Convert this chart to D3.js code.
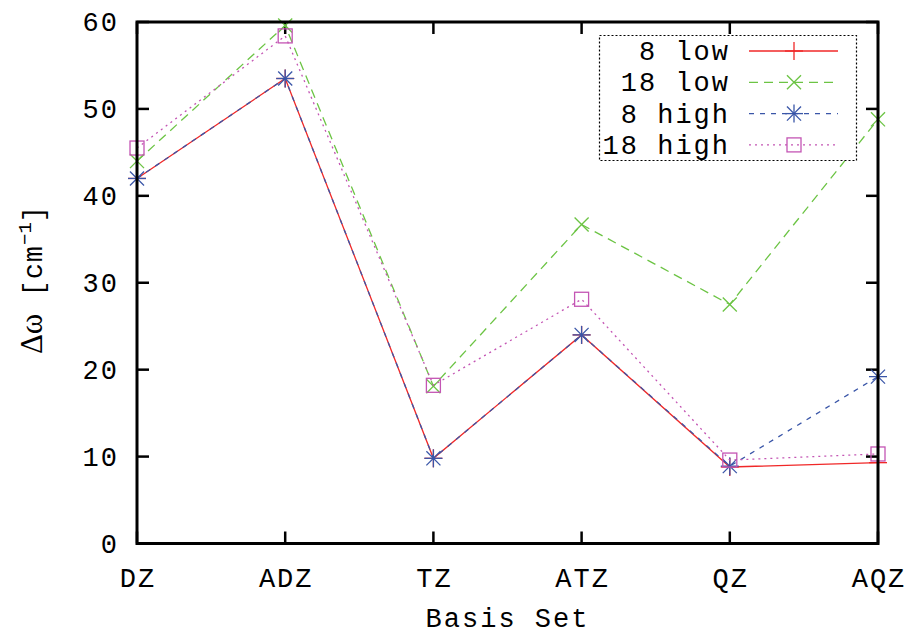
<!DOCTYPE html>
<html>
<head>
<meta charset="utf-8">
<script src="https://cdn.jsdelivr.net/npm/d3@7"></script>
<style>
  body { margin: 0; background: #fff; }
  text { font-family: "Liberation Mono", "DejaVu Sans Mono", monospace; fill: #000; }
</style>
</head>
<body>
<svg id="chart" width="906" height="634"></svg>
<script>
const categories = ['DZ', 'ADZ', 'TZ', 'ATZ', 'QZ', 'AQZ']
const low8 = [42.0, 53.5, 9.8, 24.0, 8.8, 9.3]
const low18 = [44.0, 59.6, 18.1, 36.7, 27.5, 48.8]
const high8 = [42.0, 53.5, 9.8, 24.0, 8.9, 19.2]
const high18 = [45.5, 58.4, 18.2, 28.1, 9.6, 10.3]
const yTicks = [0, 10, 20, 30, 40, 50, 60]

const series = [
    { name: '8 low', values: low8, color: '#f02828', dash: null, marker: 'plus' },
    { name: '18 low', values: low18, color: '#6cc444', dash: '9,6', marker: 'cross' },
    { name: '8 high', values: high8, color: '#3a56a8', dash: '5,6', marker: 'star' },
    { name: '18 high', values: high18, color: '#c455b4', dash: '2,4', marker: 'square' }
]

const margin = { left: 137, right: 28, top: 22, bottom: 91 }
const width = 906, height = 634
const svg = d3.select('#chart')

const x = d3.scalePoint()
    .domain(categories)
    .range([margin.left, width - margin.right])
const y = d3.scaleLinear()
    .domain([0, 60])
    .range([height - margin.bottom + 0.5, margin.top])

const fontSize = 27
const tickLen = 12

// ticks (inward, on all four sides)
const tickG = svg.append('g')
    .attr('stroke', '#000')
    .attr('stroke-width', 2.5)
yTicks.forEach(t => {
    tickG.append('line').attr('x1', margin.left).attr('x2', margin.left + tickLen).attr('y1', y(t)).attr('y2', y(t))
    tickG.append('line').attr('x1', width - margin.right).attr('x2', width - margin.right - tickLen).attr('y1', y(t)).attr('y2', y(t))
})
categories.forEach(c => {
    tickG.append('line').attr('x1', x(c)).attr('x2', x(c)).attr('y1', y(0)).attr('y2', y(0) - tickLen)
    tickG.append('line').attr('x1', x(c)).attr('x2', x(c)).attr('y1', y(60)).attr('y2', y(60) + tickLen)
})

// tick labels
svg.append('g')
    .selectAll('text')
    .data(yTicks)
    .enter()
    .append('text')
    .attr('x', 119)
    .attr('y', d => y(d) + 9)
    .attr('text-anchor', 'end')
    .style('font-size', fontSize + 'px')
    .style('letter-spacing', '2px')
    .text(d => d)

svg.append('g')
    .selectAll('text')
    .data(categories)
    .enter()
    .append('text')
    .attr('x', d => x(d) + 1)
    .attr('y', 587)
    .attr('text-anchor', 'middle')
    .style('font-size', fontSize + 'px')
    .style('letter-spacing', '2px')
    .text(d => d)

svg.append('text')
    .attr('x', (margin.left + width - margin.right) / 2)
    .attr('y', 627)
    .attr('text-anchor', 'middle')
    .style('font-size', fontSize + 'px')
    .style('letter-spacing', '2px')
    .text('Basis Set')

// y axis title
const yl = svg.append('text')
    .attr('transform', 'translate(42,280) rotate(-90)')
    .attr('text-anchor', 'middle')
    .style('font-size', fontSize + 'px')
yl.append('tspan')
    .style('font-family', '"Liberation Serif", "DejaVu Serif", serif')
    .style('font-size', '31px')
    .text('Δω')
yl.append('tspan').text('  [cm').style('letter-spacing', '1px')
yl.append('tspan').attr('dy', -11).style('font-size', '19px').text('−1')
yl.append('tspan').attr('dy', 11).text(']')

// markers
function marker(g, type, cx, cy, color) {
    const s = 9
    const m = g.append('g').attr('stroke', color).attr('stroke-width', 1.3).attr('fill', 'none')
    if (type == 'plus' || type == 'star') {
        m.append('line').attr('x1', cx - s).attr('x2', cx + s).attr('y1', cy).attr('y2', cy)
        m.append('line').attr('x1', cx).attr('x2', cx).attr('y1', cy - s).attr('y2', cy + s)
    }
    if (type == 'cross' || type == 'star') {
        const d = s * 0.78
        m.append('line').attr('x1', cx - d).attr('x2', cx + d).attr('y1', cy - d).attr('y2', cy + d)
        m.append('line').attr('x1', cx - d).attr('x2', cx + d).attr('y1', cy + d).attr('y2', cy - d)
    }
    if (type == 'square') {
        m.append('rect').attr('x', cx - 7).attr('y', cy - 7).attr('width', 14).attr('height', 14)
    }
}

const line = d3.line()
    .x((d, i) => x(categories[i]))
    .y(d => y(d))

series.forEach(s => {
    const g = svg.append('g')
    g.append('path')
        .datum(s.values)
        .attr('d', line)
        .attr('fill', 'none')
        .attr('stroke', s.color)
        .attr('stroke-width', 1.3)
        .attr('stroke-dasharray', s.dash)
    s.values.forEach((v, i) => marker(g, s.marker, x(categories[i]), y(v), s.color))
})

// frame
svg.append('rect')
    .attr('x', margin.left)
    .attr('y', margin.top)
    .attr('width', width - margin.left - margin.right)
    .attr('height', y(0) - margin.top)
    .attr('fill', 'none')
    .attr('stroke', '#000')
    .attr('stroke-width', 3)

// legend
const legend = svg.append('g')
legend.append('rect')
    .attr('x', 599.5)
    .attr('y', 35.5)
    .attr('width', 257)
    .attr('height', 125)
    .attr('fill', '#fff')
    .attr('stroke', '#000')
    .attr('stroke-width', 1.2)
    .attr('stroke-dasharray', '2,2')
series.forEach((s, i) => {
    const ly = 51 + i * 31.3
    legend.append('text')
        .attr('x', 730)
        .attr('y', ly + 9)
        .attr('text-anchor', 'end')
        .style('font-size', fontSize + 'px')
        .style('letter-spacing', '2px')
        .text(s.name)
    legend.append('line')
        .attr('x1', 749).attr('x2', 838)
        .attr('y1', ly).attr('y2', ly)
        .attr('stroke', s.color)
        .attr('stroke-width', 1.3)
        .attr('stroke-dasharray', s.dash)
    marker(legend, s.marker, 794, ly, s.color)
})
</script>
</body>
</html>
